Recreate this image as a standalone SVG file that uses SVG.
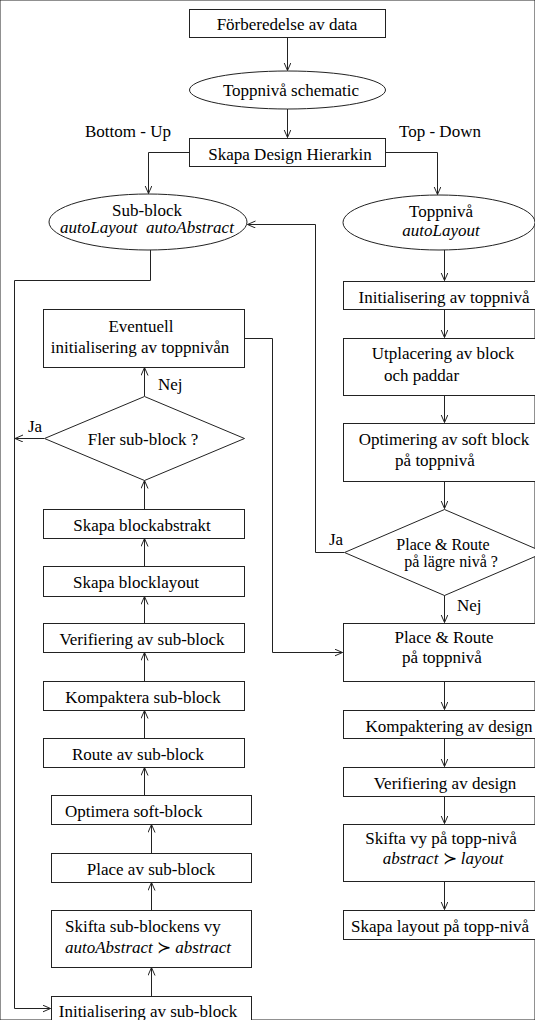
<svg xmlns="http://www.w3.org/2000/svg" width="535" height="1020" viewBox="0 0 535 1020">
<defs>
<marker id="ah" markerUnits="userSpaceOnUse" markerWidth="10" markerHeight="8" refX="8" refY="3.5" orient="auto">
<path d="M0,0 L8,3.5 L0,7" fill="none" stroke="#222" stroke-width="1"/>
</marker>
<style>
rect, ellipse, polygon { fill: #fff; stroke: #222; stroke-width: 1; }
.c { fill: none; stroke: #222; stroke-width: 1; }
.a { marker-end: url(#ah); }
text { font-family: "Liberation Serif", "Times New Roman", serif; font-size: 17px; fill: #000; }
.m { text-anchor: middle; }
.i { font-style: italic; }
.s { font-size: 16px; }
</style>
</defs>
<rect width="535" height="1020" fill="#fff" stroke="none"/>

<g id="connectors">
<path class="c a" d="M287.5,37 V70.5"/>
<path class="c a" d="M287.5,109 V137.5"/>
<path class="c a" d="M189,152.5 H148.5 V193.5"/>
<path class="c a" d="M385,152.5 H437.5 V194.5"/>
<path class="c" d="M150.5,250 V280.5 H14.5 V1008.5"/>
<path class="c a" d="M14.5,1008.5 H50.5"/>
<path class="c a" d="M44,438.5 H15"/>
<path class="c a" d="M144.5,396 V367.5"/>
<path class="c a" d="M144.5,509 V480.5"/>
<path class="c a" d="M144.5,566 V538.5"/>
<path class="c a" d="M144.5,623 V596.5"/>
<path class="c a" d="M144.5,681 V652.5"/>
<path class="c a" d="M144.5,738 V710.5"/>
<path class="c a" d="M144.5,795 V767.5"/>
<path class="c a" d="M151.5,853 V824.5"/>
<path class="c a" d="M151.5,910 V882.5"/>
<path class="c a" d="M151.5,996 V967.5"/>
<path class="c a" d="M244,338.5 H272.5 V652.5 H342.5"/>
<path class="c a" d="M344,552.5 H315.5 V224.5 H247.5"/>
<path class="c a" d="M444.5,250 V280.5"/>
<path class="c a" d="M444.5,309 V337.5"/>
<path class="c a" d="M444.5,395 V422.5"/>
<path class="c a" d="M444.5,481 V508.5"/>
<path class="c a" d="M444.5,595 V622.5"/>
<path class="c a" d="M444.5,681 V709.5"/>
<path class="c a" d="M444.5,738 V766.5"/>
<path class="c a" d="M444.5,796 V823.5"/>
<path class="c a" d="M444.5,881 V909.5"/>
</g>

<g id="labels">
<text x="85" y="137">Bottom - Up</text>
<text x="399" y="137">Top - Down</text>
<text x="28" y="432">Ja</text>
<text x="158" y="390">Nej</text>
<text x="329" y="545">Ja</text>
<text x="457" y="611">Nej</text>
</g>

<g id="n1"><rect x="189.5" y="9.5" width="196" height="28"/><text class="m" x="287" y="30">Förberedelse av data</text></g>
<g id="n2"><ellipse cx="287.5" cy="90" rx="98" ry="19"/><text class="m" x="291" y="96">Toppnivå schematic</text></g>
<g id="n3"><rect x="189.5" y="138.5" width="196" height="28"/><text class="m" x="290" y="160">Skapa Design Hierarkin</text></g>

<g id="n4"><ellipse cx="148" cy="222" rx="99" ry="28"/><text class="m" x="147" y="216">Sub-block</text><text class="m i" x="147" y="233" xml:space="preserve">autoLayout  autoAbstract</text></g>
<g id="n5"><ellipse cx="439" cy="222.5" rx="96" ry="27.5"/><text class="m" x="441" y="217">Toppnivå</text><text class="m i" x="441" y="236">autoLayout</text></g>

<g id="n6"><rect x="43.5" y="309.5" width="201" height="58"/><text class="m" x="141" y="332">Eventuell</text><text class="m" x="140" y="353">initialisering av toppnivån</text></g>
<g id="n7"><polygon points="144.5,396.5 244.5,438.5 144.5,480.5 44.5,438.5"/><text class="m" x="143" y="445">Fler sub-block ?</text></g>
<g id="n8"><rect x="43.5" y="509.5" width="201" height="29"/><text class="m" x="142" y="531">Skapa blockabstrakt</text></g>
<g id="n9"><rect x="43.5" y="566.5" width="201" height="30"/><text x="73" y="588">Skapa blocklayout</text></g>
<g id="n10"><rect x="43.5" y="623.5" width="201" height="29"/><text class="m" x="142" y="645">Verifiering av sub-block</text></g>
<g id="n11"><rect x="43.5" y="681.5" width="201" height="29"/><text class="m" x="143" y="703">Kompaktera sub-block</text></g>
<g id="n12"><rect x="43.5" y="738.5" width="201" height="29"/><text class="m" x="138" y="760">Route av sub-block</text></g>
<g id="n13"><rect x="51.5" y="795.5" width="200" height="29"/><text x="65" y="817">Optimera soft-block</text></g>
<g id="n14"><rect x="51.5" y="853.5" width="200" height="29"/><text class="m" x="151" y="875">Place av sub-block</text></g>
<g id="n15"><rect x="51.5" y="910.5" width="200" height="57"/><text x="65" y="932">Skifta sub-blockens vy</text><text class="i" x="65" y="953">autoAbstract <tspan font-style="normal">≻</tspan> abstract</text></g>
<g id="n16"><rect x="51.5" y="996.5" width="200" height="30"/><text class="m" x="148" y="1017">Initialisering av sub-block</text></g>

<g id="n17"><rect x="343.5" y="281.5" width="202" height="28"/><text class="m" x="444" y="303">Initialisering av toppnivå</text></g>
<g id="n18"><rect x="343.5" y="338.5" width="202" height="57"/><text class="m" x="443" y="359">Utplacering av block</text><text x="384" y="381">och paddar</text></g>
<g id="n19"><rect x="343.5" y="423.5" width="202" height="58"/><text class="m" x="444" y="445">Optimering av soft block</text><text class="m" x="435" y="466">på toppnivå</text></g>
<g id="n20"><polygon points="444.5,509.5 544.5,552.5 444.5,595.5 344.5,552.5"/><text class="m s" x="443" y="550">Place &amp; Route</text><text class="m s" x="451" y="567">på lägre nivå ?</text></g>
<g id="n21"><rect x="343.5" y="623.5" width="202" height="58"/><text class="m" x="444" y="643">Place &amp; Route</text><text class="m" x="442" y="663">på toppnivå</text></g>
<g id="n22"><rect x="343.5" y="710.5" width="202" height="28"/><text class="m" x="449" y="732">Kompaktering av design</text></g>
<g id="n23"><rect x="343.5" y="767.5" width="202" height="29"/><text class="m" x="445" y="789">Verifiering av design</text></g>
<g id="n24"><rect x="343.5" y="824.5" width="202" height="57"/><text class="m" x="441" y="844">Skifta vy på topp-nivå</text><text class="m i" x="443" y="864">abstract <tspan font-style="normal">≻</tspan> layout</text></g>
<g id="n25"><rect x="343.5" y="910.5" width="202" height="29"/><text class="m" x="440" y="932">Skapa layout på topp-nivå</text></g>
</svg>
